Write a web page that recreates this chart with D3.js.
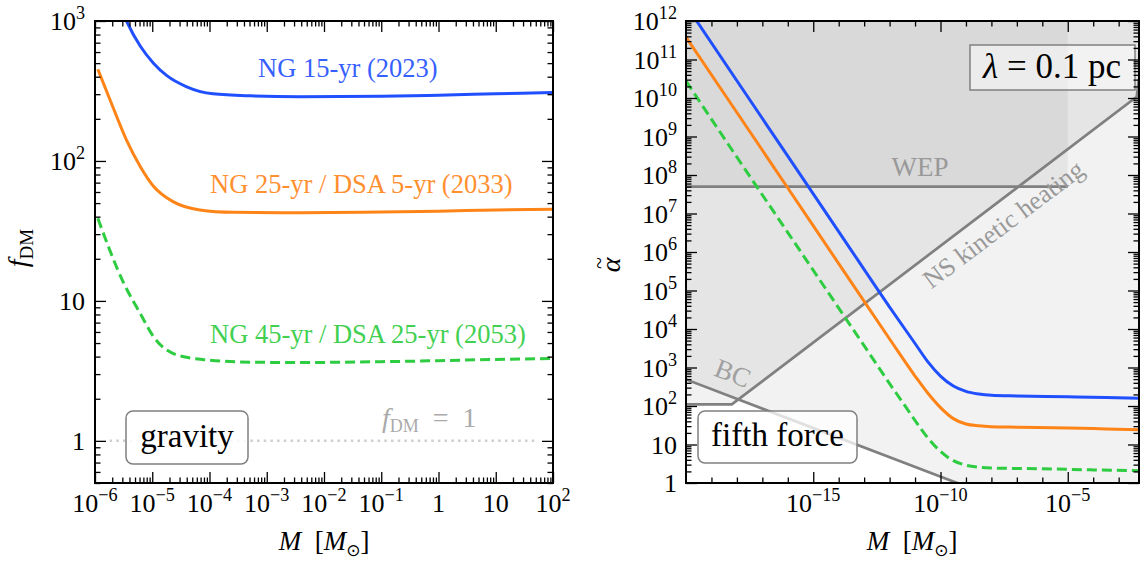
<!DOCTYPE html>
<html><head><meta charset="utf-8">
<script src="https://cdn.jsdelivr.net/npm/d3@7"></script>
<style>
body{margin:0;background:#fff;}
svg{display:block;font-family:"Liberation Serif","Times New Roman",serif;}
</style></head><body>
<svg id="c" width="1140" height="562"></svg>
<script>
// ---------------- data ----------------
// Left panel (gravity): f_DM versus M [Msun]
const gravM_blue   = [2.8e-6, 3.55e-6, 6.2e-6, 1.05e-5, 1.8e-5, 4e-5, 1.15e-4, 5e-4, 3.8e-3, 0.1, 1, 10, 100];
const gravF_blue   = [1250, 1000, 660, 500, 407, 339, 302, 292, 288, 290, 295, 302, 309];
const gravM_orange = [1.12e-6, 1.82e-6, 3.55e-6, 6.2e-6, 1.05e-5, 2.35e-5, 6.8e-5, 2.6e-4, 3.8e-3, 0.1, 1, 10, 100];
const gravF_orange = [452, 275, 141, 91, 66, 51, 44.7, 43, 42.7, 43.2, 43.8, 44.7, 45.2];
const gravM_green  = [1.12e-6, 3.2e-6, 6.2e-6, 1.05e-5, 2.7e-5, 8.9e-5, 5.1e-4, 3.8e-3, 0.1, 1, 10, 100];
const gravF_green  = [38.9, 13.3, 8.1, 5.56, 4.11, 3.79, 3.65, 3.63, 3.68, 3.74, 3.82, 3.88];
const fdmOneM = [1.8e-6, 56];
const fdmOneF = [1, 1];

// Right panel (fifth force): alpha-tilde versus M [Msun]
const ffM_blue   = [2.5e-20, 1e-18, 1e-16, 1e-14, 1e-12, 1e-11, 3.2e-11, 1e-10, 3.2e-10, 1e-9, 3.2e-9, 1e-8, 1e-7, 1e-5, 3.2e-4, 6.3e-3];
const ffA_blue   = [1.05e12, 2.8e10, 3.1e8, 3.4e6, 3.7e4, 4.2e3, 1.4e3, 600, 330, 240, 205, 190, 182, 174, 166, 158];
const ffM_orange = [1e-20, 1e-18, 1e-16, 1e-14, 1e-12, 1e-11, 3.2e-11, 1e-10, 3.2e-10, 1e-9, 3.2e-9, 1e-8, 1e-7, 1e-5, 3.2e-4, 6.3e-3];
const ffA_orange = [3.8e11, 4.2e9, 4.6e7, 5.0e5, 5.5e3, 600, 214, 91, 47, 34, 30.5, 29, 28.2, 27, 25.3, 24];
const ffM_green  = [1e-20, 1e-18, 1e-16, 1e-14, 3.2e-13, 1e-12, 3.2e-12, 1e-11, 3.2e-11, 1e-10, 3.2e-10, 1e-9, 3.2e-9, 1e-8, 1e-6, 1e-4, 6.3e-3];
const ffA_green  = [2.75e10, 2.9e8, 3.2e6, 3.5e4, 1.17e3, 380, 126, 42, 14.8, 6.6, 3.8, 2.9, 2.57, 2.45, 2.34, 2.19, 2.09];
// constraint lines
const wepM = [1e-20, 1e-5];
const wepA = [5e7, 5e7];
const nsM  = [1e-20, 6.3e-19, 5.1e-3, 6.3e-3];
const nsA  = [110, 110, 1.07e10, 3.2e10];
const bcM  = [1e-20, 1e-2];
const bcA  = [490, 0.014];

// tick labels
const leftXTicks  = [1e-6, 1e-5, 1e-4, 1e-3, 1e-2, 1e-1, 1, 10, 100];
const leftXLabels = ["10^−6", "10^−5", "10^−4", "10^−3", "10^−2", "10^−1", "1", "10", "10^2"];
const leftYTicks  = [1, 10, 100, 1000];
const leftYLabels = ["1", "10", "10^2", "10^3"];
const rightXTicks  = [1e-15, 1e-10, 1e-5];
const rightXLabels = ["10^−15", "10^−10", "10^−5"];
const rightYTicks  = [1, 10, 1e2, 1e3, 1e4, 1e5, 1e6, 1e7, 1e8, 1e9, 1e10, 1e11, 1e12];
const rightYLabels = ["1", "10", "10^2", "10^3", "10^4", "10^5", "10^6", "10^7", "10^8", "10^9", "10^10", "10^11", "10^12"];

const labelBlue   = "NG 15-yr (2023)";
const labelOrange = "NG 25-yr / DSA 5-yr (2033)";
const labelGreen  = "NG 45-yr / DSA 25-yr (2053)";

// ---------------- style ----------------
const C_BLUE = "#1f4fff", C_ORANGE = "#ff8418", C_GREEN = "#2ecc40", C_GRAY = "#808080";

const svg = d3.select("#c");
svg.append("rect").attr("width", 1140).attr("height", 562).attr("fill", "#fff");

const xL = d3.scaleLog().domain([1e-6, 1e2]).range([95, 553]);
const yL = d3.scaleLog().domain([0.5, 1e3]).range([483, 21]);
const xR = d3.scaleLog().domain([1e-20, 6.3e-3]).range([686, 1139]);
const yR = d3.scaleLog().domain([1, 1e12]).range([483, 21]);

const defs = svg.append("defs");
function clip(id, x, y) {
  defs.append("clipPath").attr("id", id).append("rect")
    .attr("x", x.range()[0]).attr("y", y.range()[1])
    .attr("width", x.range()[1] - x.range()[0]).attr("height", y.range()[0] - y.range()[1]);
}
clip("clipL", xL, yL); clip("clipR", xR, yR);

function powText(sel, label, size) {
  const parts = label.split("^");
  sel.append("tspan").text(parts[0]);
  if (parts[1]) sel.append("tspan").attr("font-size", size * 0.7).attr("dy", -size * 0.42).text(parts[1]);
}

function tickAxis(g, scale, vals, orient, pos, len) {
  const ax = orient === "bottom" ? d3.axisBottom(scale) : orient === "top" ? d3.axisTop(scale)
    : orient === "left" ? d3.axisLeft(scale) : d3.axisRight(scale);
  ax.tickValues(vals).tickSize(-len).tickFormat(() => "");
  const t = (orient === "bottom" || orient === "top") ? `translate(0,${pos})` : `translate(${pos},0)`;
  g.append("g").attr("transform", t).call(ax)
    .call(s => s.select(".domain").remove())
    .call(s => s.selectAll("line").attr("stroke", "#000").attr("stroke-width", 1.3));
}

function frameAndTicks(x, y, xMaj, xMin, yMaj, yMin) {
  const g = svg.append("g");
  const [x0, x1] = x.range(), [y1, y0] = y.range();
  tickAxis(g, x, xMaj, "bottom", y1, 11);
  tickAxis(g, x, xMin, "bottom", y1, 5.5);
  tickAxis(g, x, xMaj, "top", y0, 11);
  tickAxis(g, x, xMin, "top", y0, 5.5);
  tickAxis(g, y, yMaj, "left", x0, 11);
  tickAxis(g, y, yMin, "left", x0, 5.5);
  tickAxis(g, y, yMaj, "right", x1, 11);
  tickAxis(g, y, yMin, "right", x1, 5.5);
  g.append("rect").attr("x", x0).attr("y", y0).attr("width", x1 - x0).attr("height", y1 - y0)
    .attr("fill", "none").attr("stroke", "#000").attr("stroke-width", 2);
}

function lineOf(x, y, curve) {
  return d3.line().x(d => x(d[0])).y(d => y(d[1])).curve(curve || d3.curveMonotoneX);
}

// ================= LEFT PANEL =================
const gL = svg.append("g").attr("clip-path", "url(#clipL)");
gL.append("path").datum(d3.zip(fdmOneM, fdmOneF)).attr("d", lineOf(xL, yL, d3.curveLinear))
  .attr("fill", "none").attr("stroke", "#cfcfcf").attr("stroke-width", 2.5).attr("stroke-dasharray", "2.5,4.2");
gL.append("path").datum(d3.zip(gravM_blue, gravF_blue)).attr("d", lineOf(xL, yL))
  .attr("fill", "none").attr("stroke", C_BLUE).attr("stroke-width", 3);
gL.append("path").datum(d3.zip(gravM_orange, gravF_orange)).attr("d", lineOf(xL, yL))
  .attr("fill", "none").attr("stroke", C_ORANGE).attr("stroke-width", 3);
gL.append("path").datum(d3.zip(gravM_green, gravF_green)).attr("d", lineOf(xL, yL))
  .attr("fill", "none").attr("stroke", C_GREEN).attr("stroke-width", 3).attr("stroke-dasharray", "10,5");

svg.append("text").attr("x", 258).attr("y", 77).attr("font-size", 26.5).attr("fill", C_BLUE).attr("opacity", 0.9).text(labelBlue);
svg.append("text").attr("x", 210).attr("y", 193).attr("font-size", 26.5).attr("fill", C_ORANGE).attr("opacity", 0.9).text(labelOrange);
svg.append("text").attr("x", 210).attr("y", 343).attr("font-size", 26.5).attr("fill", C_GREEN).attr("opacity", 0.9).text(labelGreen);

const fdm1 = svg.append("text").attr("x", 382).attr("y", 427).attr("font-size", 28).attr("fill", "#aaa");
fdm1.append("tspan").attr("font-style", "italic").text("f");
fdm1.append("tspan").attr("font-size", 18).attr("dy", 5).text("DM");
fdm1.append("tspan").attr("dy", -5).text("\u2002=\u20021");

svg.append("rect").attr("x", 126).attr("y", 411).attr("width", 122).attr("height", 53).attr("rx", 7)
  .attr("fill", "#fff").attr("fill-opacity", 0.85).attr("stroke", C_GRAY).attr("stroke-width", 1.5);
svg.append("text").attr("x", 187).attr("y", 447).attr("text-anchor", "middle").attr("font-size", 33).text("gravity");

frameAndTicks(xL, yL, leftXTicks,
  d3.range(-6, 2).flatMap(e => d3.range(2, 10).map(k => k * Math.pow(10, e))),
  leftYTicks,
  d3.range(-1, 3).flatMap(e => d3.range(2, 10).map(k => k * Math.pow(10, e))).filter(v => v >= 0.5 && v <= 1000));

leftXTicks.forEach((v, i) => {
  const t = svg.append("text").attr("x", xL(v)).attr("y", 512).attr("text-anchor", "middle").attr("font-size", 26);
  powText(t, leftXLabels[i], 26);
});
leftYTicks.forEach((v, i) => {
  const t = svg.append("text").attr("x", 85).attr("y", yL(v) + 9).attr("text-anchor", "end").attr("font-size", 26);
  powText(t, leftYLabels[i], 26);
});

// ================= RIGHT PANEL =================
const gR = svg.append("g").attr("clip-path", "url(#clipR)");
const alphaTop = yR.domain()[1];
function shade(M, A) {
  gR.append("path").datum(d3.zip(M, A))
    .attr("d", d3.area().x(d => xR(d[0])).y0(yR(alphaTop)).y1(d => yR(d[1])))
    .attr("fill", "#000").attr("fill-opacity", 0.05);
}
shade(bcM, bcA); shade(nsM, nsA); shade(wepM, wepA);
[[bcM, bcA], [nsM, nsA], [wepM, wepA]].forEach(([M, A]) => {
  gR.append("path").datum(d3.zip(M, A)).attr("d", lineOf(xR, yR, d3.curveLinear))
    .attr("fill", "none").attr("stroke", C_GRAY).attr("stroke-width", 2.7);
});
gR.append("path").datum(d3.zip(ffM_blue, ffA_blue)).attr("d", lineOf(xR, yR))
  .attr("fill", "none").attr("stroke", C_BLUE).attr("stroke-width", 3);
gR.append("path").datum(d3.zip(ffM_orange, ffA_orange)).attr("d", lineOf(xR, yR))
  .attr("fill", "none").attr("stroke", C_ORANGE).attr("stroke-width", 3);
gR.append("path").datum(d3.zip(ffM_green, ffA_green)).attr("d", lineOf(xR, yR))
  .attr("fill", "none").attr("stroke", C_GREEN).attr("stroke-width", 3).attr("stroke-dasharray", "10,5");

svg.append("text").attr("x", 920).attr("y", 176).attr("text-anchor", "middle").attr("font-size", 27).attr("fill", "#999").text("WEP");
svg.append("text").attr("transform", "translate(1003,224) rotate(-37)").attr("text-anchor", "middle").attr("dy", "0.35em")
  .attr("font-size", 26).attr("fill", "#999").text("NS kinetic heating");
svg.append("text").attr("transform", "translate(733,373) rotate(21)").attr("text-anchor", "middle").attr("dy", "0.35em")
  .attr("font-size", 27).attr("fill", "#a0a0a0").text("BC");

svg.append("rect").attr("x", 698).attr("y", 411).attr("width", 159).attr("height", 52).attr("rx", 7)
  .attr("fill", "#fff").attr("fill-opacity", 0.75).attr("stroke", C_GRAY).attr("stroke-width", 1.5);
svg.append("text").attr("x", 777.5).attr("y", 446).attr("text-anchor", "middle").attr("font-size", 33).text("fifth force");

svg.append("rect").attr("x", 970).attr("y", 45).attr("width", 165).attr("height", 45)
  .attr("fill", "#fff").attr("fill-opacity", 0.5).attr("stroke", C_GRAY).attr("stroke-width", 1.5);
const lam = svg.append("text").attr("x", 1052).attr("y", 78).attr("text-anchor", "middle").attr("font-size", 35);
lam.append("tspan").attr("font-style", "italic").text("λ");
lam.append("tspan").text("\u2005=\u20050.1 pc");

frameAndTicks(xR, yR, rightXTicks,
  d3.range(-19, -2).filter(e => e % 5 !== 0).map(e => Math.pow(10, e)),
  rightYTicks,
  d3.range(0, 12).flatMap(e => d3.range(2, 10).map(k => k * Math.pow(10, e))));

rightXTicks.forEach((v, i) => {
  const t = svg.append("text").attr("x", xR(v)).attr("y", 512).attr("text-anchor", "middle").attr("font-size", 26);
  powText(t, rightXLabels[i], 26);
});
rightYTicks.forEach((v, i) => {
  const t = svg.append("text").attr("x", 677).attr("y", yR(v) + 9).attr("text-anchor", "end").attr("font-size", 26);
  powText(t, rightYLabels[i], 26);
});

// ================= axis titles =================
function massTitle(cx) {
  const t = svg.append("text").attr("x", cx).attr("y", 550).attr("text-anchor", "middle").attr("font-size", 27);
  t.append("tspan").attr("font-style", "italic").text("M");
  t.append("tspan").text("\u2002[");
  t.append("tspan").attr("font-style", "italic").text("M");
  t.append("tspan").attr("font-size", 17).attr("dy", 6).attr("font-family", "DejaVu Sans").text("⊙");
  t.append("tspan").attr("dy", -6).text("]");
}
massTitle(324); massTitle(912);

const fy = svg.append("text").attr("transform", "translate(27,248) rotate(-90)").attr("text-anchor", "middle").attr("font-size", 28);
fy.append("tspan").attr("font-style", "italic").text("f");
fy.append("tspan").attr("font-size", 19).attr("dy", 6).text("DM");

const at = svg.append("g").attr("transform", "translate(620,265) rotate(-90)");
at.append("text").attr("text-anchor", "middle").attr("font-size", 28).attr("font-style", "italic").text("α");
at.append("text").attr("x", 2).attr("y", -14).attr("text-anchor", "middle").attr("font-size", 22).text("~");
</script>
</body></html>
